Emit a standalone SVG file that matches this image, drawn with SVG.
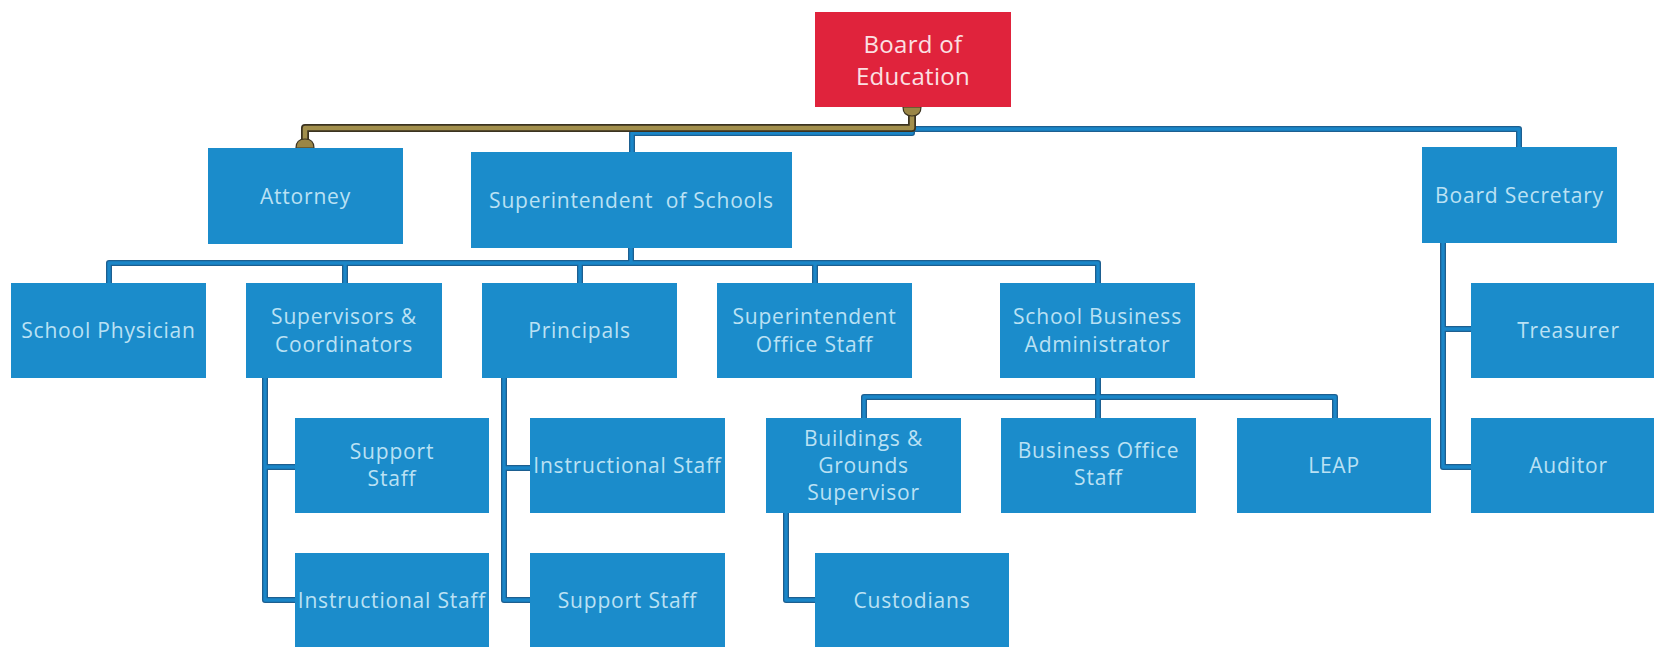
<svg xmlns="http://www.w3.org/2000/svg" width="1654" height="647" viewBox="0 0 1654 647">
  <style>
    .box { fill: #1b8ccb; }
    .top { fill: #e0233c; }
    .lbl { font-family: "Open Sans", "Liberation Sans", sans-serif; font-size: 21px; letter-spacing: 0.8px; fill: #bae1f4; text-anchor: middle; }
    .lbl-top { font-family: "Open Sans", "Liberation Sans", sans-serif; font-size: 24px; letter-spacing: 0.3px; fill: #fbe0e3; text-anchor: middle; }
    .edge-outer { fill: none; stroke: #1d5f90; stroke-width: 6; stroke-linejoin: round; }
    .edge-inner { fill: none; stroke: #1a86c8; stroke-width: 3.4; stroke-linejoin: round; }
    .legal-outer { fill: none; stroke: #3b3320; stroke-width: 8; stroke-linejoin: round; }
    .legal-inner { fill: none; stroke: #a28f4c; stroke-width: 4.5; stroke-linejoin: round; }
    .cap { fill: #9a8646; stroke: #3b3320; stroke-width: 1.2; }
  </style>
  <defs>
    <!-- reporting lines, shared by outline and core strokes -->
    <path id="p-exec" d="M632 152 V133 H912 V129 H1519 V147"/>
    <path id="p-lvl2" d="M631 248 V263 M109 283 V263 H1098 V283 M345 263 V283 M580 263 V283 M815 263 V283"/>
    <path id="p-sup" d="M265 378 V600 H295 M265 467 H295"/>
    <path id="p-prin" d="M504 378 V600 H530 M504 468 H530"/>
    <path id="p-sba" d="M1098 378 V418 M864 418 V397 H1335 V418"/>
    <path id="p-bg" d="M786 513 V600 H815"/>
    <path id="p-sec" d="M1443 243 V467 H1471 M1443 329 H1471"/>
    <path id="p-legal" d="M912 107 V128 H305 V148"/>
  </defs>

  <rect width="1654" height="647" fill="#ffffff"/>

  <g id="connectors">
    <use href="#p-exec" class="edge-outer"/>
    <use href="#p-exec" class="edge-inner"/>
    <use href="#p-lvl2" class="edge-outer"/>
    <use href="#p-lvl2" class="edge-inner"/>
    <use href="#p-sup" class="edge-outer"/>
    <use href="#p-sup" class="edge-inner"/>
    <use href="#p-prin" class="edge-outer"/>
    <use href="#p-prin" class="edge-inner"/>
    <use href="#p-sba" class="edge-outer"/>
    <use href="#p-sba" class="edge-inner"/>
    <use href="#p-bg" class="edge-outer"/>
    <use href="#p-bg" class="edge-inner"/>
    <use href="#p-sec" class="edge-outer"/>
    <use href="#p-sec" class="edge-inner"/>
    <use href="#p-legal" class="legal-outer"/>
    <use href="#p-legal" class="legal-inner"/>
    <!-- rounded end caps on the board-to-attorney line -->
    <path class="cap" d="M903 107 Q903 116 912 116 Q921 116 921 107 Z"/>
    <path class="cap" d="M296 148 Q296 139 305 139 Q314 139 314 148 Z"/>
  </g>

  <g id="board-of-education">
    <rect class="top" x="815" y="12" width="196" height="95"/>
    <text class="lbl-top"><tspan x="913" y="53">Board of</tspan><tspan x="913" y="85">Education</tspan></text>
  </g>

  <g id="attorney">
    <rect class="box" x="208" y="148" width="195" height="96"/>
    <text class="lbl" x="305.5" y="203.5">Attorney</text>
  </g>
  <g id="superintendent">
    <rect class="box" x="471" y="152" width="321" height="96"/>
    <text class="lbl" x="631.5" y="207.5" xml:space="preserve">Superintendent  of Schools</text>
  </g>
  <g id="board-secretary">
    <rect class="box" x="1422" y="147" width="195" height="96"/>
    <text class="lbl" x="1519.5" y="202.5">Board Secretary</text>
  </g>

  <g id="school-physician">
    <rect class="box" x="11" y="283" width="195" height="95"/>
    <text class="lbl" x="108.5" y="338">School Physician</text>
  </g>
  <g id="supervisors">
    <rect class="box" x="246" y="283" width="196" height="95"/>
    <text class="lbl"><tspan x="344" y="324">Supervisors &amp;</tspan><tspan x="344" y="352">Coordinators</tspan></text>
  </g>
  <g id="principals">
    <rect class="box" x="482" y="283" width="195" height="95"/>
    <text class="lbl" x="579.5" y="338">Principals</text>
  </g>
  <g id="superintendent-office-staff">
    <rect class="box" x="717" y="283" width="195" height="95"/>
    <text class="lbl"><tspan x="814.5" y="324">Superintendent</tspan><tspan x="814.5" y="352">Office Staff</tspan></text>
  </g>
  <g id="school-business-administrator">
    <rect class="box" x="1000" y="283" width="195" height="95"/>
    <text class="lbl"><tspan x="1097.5" y="324">School Business</tspan><tspan x="1097.5" y="352">Administrator</tspan></text>
  </g>
  <g id="treasurer">
    <rect class="box" x="1471" y="283" width="195" height="95"/>
    <text class="lbl" x="1568.5" y="338">Treasurer</text>
  </g>

  <g id="sup-support-staff">
    <rect class="box" x="295" y="418" width="194" height="95"/>
    <text class="lbl"><tspan x="392" y="459">Support</tspan><tspan x="392" y="486">Staff</tspan></text>
  </g>
  <g id="prin-instructional-staff">
    <rect class="box" x="530" y="418" width="195" height="95"/>
    <text class="lbl" x="627.5" y="473">Instructional Staff</text>
  </g>
  <g id="buildings-grounds">
    <rect class="box" x="766" y="418" width="195" height="95"/>
    <text class="lbl"><tspan x="863.5" y="445.5">Buildings &amp;</tspan><tspan x="863.5" y="472.5">Grounds</tspan><tspan x="863.5" y="499.5">Supervisor</tspan></text>
  </g>
  <g id="business-office-staff">
    <rect class="box" x="1001" y="418" width="195" height="95"/>
    <text class="lbl"><tspan x="1098.5" y="457.5">Business Office</tspan><tspan x="1098.5" y="484.5">Staff</tspan></text>
  </g>
  <g id="leap">
    <rect class="box" x="1237" y="418" width="194" height="95"/>
    <text class="lbl" x="1334" y="473">LEAP</text>
  </g>
  <g id="auditor">
    <rect class="box" x="1471" y="418" width="195" height="95"/>
    <text class="lbl" x="1568.5" y="473">Auditor</text>
  </g>

  <g id="sup-instructional-staff">
    <rect class="box" x="295" y="553" width="194" height="95"/>
    <text class="lbl" x="392" y="608">Instructional Staff</text>
  </g>
  <g id="prin-support-staff">
    <rect class="box" x="530" y="553" width="195" height="95"/>
    <text class="lbl" x="627.5" y="608">Support Staff</text>
  </g>
  <g id="custodians">
    <rect class="box" x="815" y="553" width="194" height="95"/>
    <text class="lbl" x="912" y="608">Custodians</text>
  </g>
</svg>
